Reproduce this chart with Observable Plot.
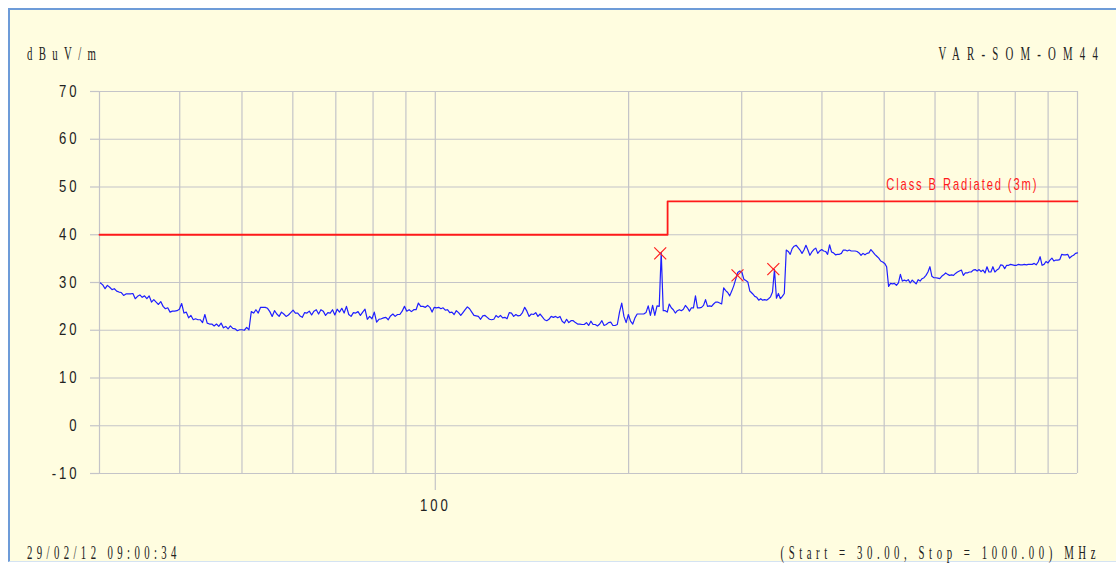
<!DOCTYPE html>
<html>
<head>
<meta charset="utf-8">
<script src="https://cdn.jsdelivr.net/npm/d3@7"></script>
<script src="https://cdn.jsdelivr.net/npm/@observablehq/plot@0.6"></script>
<style>
  html, body { margin: 0; padding: 0; background: #ffffff; width: 1116px; height: 565px; overflow: hidden; }
  #frame { position: absolute; left: 8px; top: 8px; width: 1200px; height: 554px;
           background: #fffde0; border-left: 2px solid #6d9bd8; border-top: 2px solid #6d9bd8;
           border-bottom: 1px solid #d4e3f2; box-sizing: border-box; }
  #chart { position: absolute; left: 0; top: 0; }
  #chart svg text { letter-spacing: 3.6px; }
  #labels { position: absolute; left: 0; top: 0; pointer-events: none; }
  #labels text { font-family: "Liberation Serif", "DejaVu Serif", serif; font-size: 18px; fill: #222; }
</style>
</head>
<body>
<div id="frame"></div>
<div id="chart"></div>
<svg id="labels" width="1116" height="565">
  <text transform="translate(27,60) scale(0.6,1)" style="letter-spacing:10.6px">dBuV/m</text>
  <text transform="translate(1105,60) scale(0.6,1)" text-anchor="end" style="letter-spacing:12px">VAR-SOM-OM44</text>
  <text transform="translate(27,559) scale(0.6,1)" style="letter-spacing:7.3px">29/02/12 09:00:34</text>
  <text transform="translate(1100,559) scale(0.6,1)" text-anchor="end" style="letter-spacing:7.6px">(Start = 30.00, Stop = 1000.00) MHz</text>
</svg>
<script>
// ---- data ----
const yTicks = [-10, 0, 10, 20, 30, 40, 50, 60, 70];
const xGridTicks = [30, 40, 50, 60, 70, 80, 90, 100, 200, 300, 400, 500, 600, 700, 800, 900, 1000];
const xLabelTicks = [100];

// limit line: Class B Radiated (3m)
const limitFreq = [30, 230, 1000];
const limitLevel = [40, 47, 47];
const limitLabel = "Class B Radiated (3m)";

// marked peaks
const peakFreq = [224, 295.5, 336];
const peakLevel = [36.1, 31.5, 32.8];

// sweep segments (start / stop MHz) and measured levels (dBuV/m)
const segStartMHz = [30.1, 97.3, 224.8, 310.0];
const segStopMHz  = [96.5, 223.2, 308.9, 1000];

const segA = [29.9, 29.5, 28.7, 29.4, 29.0, 28.5, 28.7, 28.2, 28.0, 27.9, 27.3, 27.6, 27.6, 27.6, 27.7, 26.6, 27.1, 27.4, 26.9, 27.2,
  26.6, 27.2, 25.9, 26.4, 25.9, 25.4, 26.0, 25.0, 24.5, 24.7, 23.8, 24.0, 24.0, 24.1, 24.4, 25.6, 23.6, 23.8, 22.6, 23.1,
  22.2, 22.4, 22.2, 22.2, 21.6, 23.3, 21.5, 21.3, 21.3, 20.9, 21.3, 20.8, 21.5, 20.5, 20.8, 20.3, 20.9, 20.4, 20.3, 19.9,
  20.1, 20.1, 20.0, 20.6, 20.1, 23.9, 23.6, 24.3, 23.6, 24.8, 24.8, 24.8, 24.6, 23.9, 22.9, 24.1, 23.4, 22.9, 23.8, 23.4,
  22.9, 23.2, 23.7, 24.2, 23.6, 23.6, 23.0, 22.7, 23.7, 23.6, 24.0, 23.2, 24.0, 24.3, 23.4, 24.3, 24.0, 23.1, 23.7, 23.6,
  24.3, 23.2, 24.4, 23.8, 24.6, 23.6, 25.0, 23.3, 22.9, 23.7, 23.6, 23.9, 23.1, 23.8, 24.4, 22.3, 22.9, 22.4, 23.8, 21.7,
  22.3, 22.4, 22.6, 22.7, 22.2, 23.0, 23.4, 22.9, 23.3, 23.3, 24.0, 25.0, 24.0, 24.3, 23.9, 24.3, 24.3, 25.7, 25.0, 25.0, 24.8];

const segB1 = [25.2, 24.8, 23.8, 24.8, 24.7, 24.8, 24.5, 24.7, 24.2, 24.3, 23.7, 23.8, 23.3, 24.1, 23.7, 23.1, 23.7, 24.3, 24.9, 24.5,
  23.8, 23.1, 23.0, 22.9, 22.3, 23.0, 23.1, 22.7, 22.3, 22.2, 22.3, 23.1, 22.7, 23.1, 22.6, 22.7, 22.4, 23.7, 23.6, 22.9,
  23.3, 23.0, 23.1, 23.7, 24.8, 24.0, 22.9, 23.4, 23.3, 23.7, 22.9, 23.4, 22.8, 22.2, 22.0, 22.3, 22.9, 22.7, 22.9, 22.6,
  22.9, 21.9, 21.5, 22.3, 21.6, 22.0, 22.0, 21.6, 21.3, 21.3, 21.2, 21.2, 21.6, 21.0, 21.9, 21.2, 21.2, 20.9, 21.3, 22.0,
  21.0, 21.2, 21.6, 21.7, 21.0, 21.0, 21.2, 23.8, 25.7, 22.9, 21.6, 23.3, 21.9, 21.3, 22.6, 23.4, 23.4, 23.4, 23.4, 23.7,
  25.1, 23.1, 25.2, 23.1, 25.1, 25.0];

const segB2 = [36.3, 24.1, 24.1, 23.8, 25.5, 24.7, 24.3, 23.6, 24.1, 24.3, 24.1, 24.4, 25.2, 24.7, 24.0, 24.7, 24.7, 27.2, 24.7, 24.7,
  24.8, 25.2, 26.4, 25.0, 25.1, 25.0, 25.5, 25.9, 25.9, 25.7, 25.5, 28.9, 28.3, 27.9, 27.2, 28.2, 29.3, 30.7, 32.1, 32.4,
  32.2, 30.7, 30.4, 30.1, 28.2];

const segC = [28.0, 27.6, 27.1, 26.9, 26.3, 26.6, 26.3, 26.4, 26.3, 26.6, 27.0, 28.0, 32.7, 26.7, 27.7, 26.6, 27.1, 27.7, 36.8, 36.5,
  35.9, 37.1, 37.6, 37.8, 37.3, 36.8, 36.1, 36.8, 37.8, 36.8, 35.7, 36.4, 36.9, 37.2, 36.1, 36.6, 36.9, 36.6, 36.5, 35.9,
  37.9, 36.4, 36.2, 35.8, 35.9, 35.9, 36.1, 36.8, 36.8, 36.6, 36.8, 36.6, 36.6, 36.6, 36.5, 36.2, 35.7, 36.1, 35.8, 36.1,
  36.2, 36.9, 36.4, 35.9, 35.5, 35.1, 34.5, 34.3, 34.0, 33.3, 29.2, 29.8, 29.7, 29.8, 29.4, 29.9, 31.7, 30.3, 30.5, 30.3,
  30.6, 29.9, 30.5, 30.1, 29.7, 30.6, 30.3, 30.8, 31.0, 31.5, 32.2, 33.3, 31.3, 31.0, 31.0, 30.9, 30.8, 31.3, 31.6, 32.0,
  31.7, 31.5, 31.6, 31.5, 31.9, 32.2, 32.4, 32.6, 31.5, 32.0, 32.0, 32.2, 32.2, 32.6, 32.7, 32.4, 32.7, 32.3, 32.6, 32.0,
  33.3, 32.2, 32.2, 33.3, 32.2, 32.6, 32.9, 33.7, 33.6, 32.9, 33.6, 33.6, 33.8, 33.7, 33.6, 33.6, 33.8, 33.7, 33.7, 33.8,
  33.7, 33.8, 33.8, 33.8, 34.0, 33.7, 34.3, 35.4, 33.6, 33.8, 34.4, 34.1, 34.7, 35.1, 34.5, 34.7, 34.7, 34.8, 35.9, 35.8,
  35.8, 35.9, 35.1, 35.5, 35.7, 36.1, 36.2];

const segments = [segA, segB1, segB2, segC];

// ---- build tables for the library ----
// sweep points are spaced evenly in log frequency within each segment
const trace = [];
segments.forEach((levels, s) => {
  const f0 = segStartMHz[s], f1 = segStopMHz[s], n = levels.length;
  levels.forEach((v, i) => trace.push({f: f0 * Math.pow(f1 / f0, i / (n - 1)), v}));
});
const limit = limitFreq.map((f, i) => ({f, v: limitLevel[i]}));
const peaks = peakFreq.map((f, i) => ({f, v: peakLevel[i]}));

const gridColor = "#c4c4c8";

const chart = Plot.plot({
  width: 1116,
  height: 565,
  marginLeft: 99,
  marginRight: 39,
  marginTop: 91,
  marginBottom: 92,
  style: {
    background: "transparent",
    color: "#222",
    fontFamily: "'Liberation Sans', Arial, sans-serif",
    fontSize: "16px",
    overflow: "visible"
  },
  x: {type: "log", domain: [30, 1000]},
  y: {domain: [-10, 70]},
  marks: [
    Plot.gridY(yTicks, {stroke: gridColor, strokeOpacity: 1, strokeWidth: 1.2}),
    Plot.gridX(xGridTicks, {stroke: gridColor, strokeOpacity: 1, strokeWidth: 1.2}),
    Plot.axisY(yTicks, {tickSize: 9, tickPadding: 11, stroke: gridColor, strokeWidth: 1.2, fill: "#222",
      tickFormat: d => String(d), label: null}),
    Plot.axisX(xLabelTicks, {tickSize: 17, tickPadding: 9, stroke: gridColor, strokeWidth: 1.2, fill: "#222",
      tickFormat: d => String(d), label: null}),
    Plot.line(limit, {x: "f", y: "v", curve: "step-after", stroke: "#ff1a1a", strokeWidth: 1.8}),
    Plot.line(trace, {x: "f", y: "v", stroke: "#1f1fff", strokeWidth: 1.2}),
    Plot.dot(peaks, {x: "f", y: "v", symbol: "times", r: 5.5, stroke: "#ff2020", strokeWidth: 1.2}),
    Plot.text([limitLabel], {x: 500, y: 47, text: d => d, textAnchor: "start", dx: 2, dy: -16,
      fill: "#ff1a1a", fontSize: 16})
  ]
});
document.getElementById("chart").appendChild(chart);
// letter spacing for the limit label
d3.select(chart).selectAll("text").filter(function () { return this.textContent === limitLabel; })
  .style("letter-spacing", "2.7px");

// narrow the sans-serif glyphs horizontally (Arial Narrow look) around each text's anchor
function condense(svg) {
  svg.querySelectorAll("text").forEach(t => {
    const s = t.textContent === limitLabel ? 0.7 : 0.82;
    const r = t.getBoundingClientRect();
    const anchor = getComputedStyle(t).textAnchor;
    const sx = anchor === "end" ? r.right : anchor === "middle" ? (r.left + r.right) / 2 : r.left;
    const parent = t.parentNode;
    const ctm = parent.getScreenCTM();
    const ax = (sx - ctm.e) / ctm.a;
    const g = document.createElementNS("http://www.w3.org/2000/svg", "g");
    g.setAttribute("transform", `translate(${ax},0) scale(${s},1) translate(${-ax},0)`);
    parent.insertBefore(g, t);
    g.appendChild(t);
  });
}
condense(chart);
</script>
</body>
</html>
